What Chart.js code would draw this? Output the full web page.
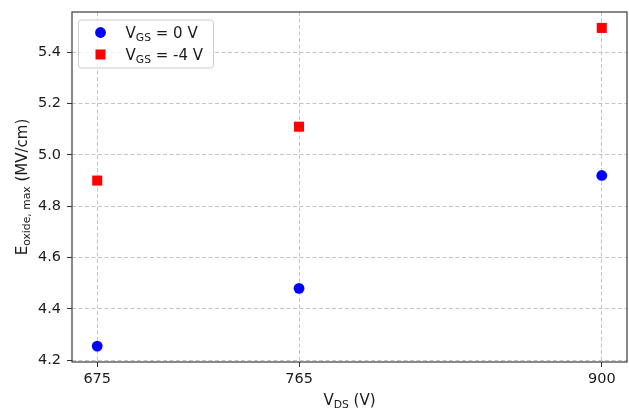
<!DOCTYPE html>
<html>
<head>
<meta charset="utf-8">
<script src="https://cdn.jsdelivr.net/npm/chart.js@4/dist/chart.umd.min.js"></script>
<style>
html,body{margin:0;padding:0;background:#fff;}
#wrap{width:629px;height:408px;position:relative;}
</style>
</head>
<body>
<div id="wrap"><canvas id="c" width="629" height="408"></canvas></div>
<script>
// ---- data ----
const vdsValues = [675, 765, 900];
const eox_vgs0 = [4.255, 4.48, 4.92];
const eox_vgsm4 = [4.90, 5.11, 5.495];
const xTickValues = [675, 765, 900];
const yTickValues = [4.2, 4.4, 4.6, 4.8, 5.0, 5.2, 5.4];
const seriesLabels = [["V", "GS", " = 0 V"], ["V", "GS", " = -4 V"]];
const xTitleParts = ["V", "DS", " (V)"];
const yTitleParts = ["E", "oxide, max", " (MV/cm)"];

const FONT = '"DejaVu Sans", sans-serif';
const TXT = '#1a1a1a';

function pad(arr){ const lo=Math.min(...arr), hi=Math.max(...arr); const m=(hi-lo)*0.05; return [lo-m, hi+m]; }
const xr = pad(vdsValues);
const yr = pad(eox_vgs0.concat(eox_vgsm4));

function drawSub(ctx, parts, x, y, size, align) {
  ctx.font = size + 'px ' + FONT;
  const w0 = ctx.measureText(parts[0]).width;
  const w2 = ctx.measureText(parts[2]).width;
  ctx.font = (size*0.72) + 'px ' + FONT;
  const w1 = ctx.measureText(parts[1]).width;
  const total = w0 + w1 + w2;
  let sx = align === 'center' ? x - total/2 : x;
  ctx.textAlign = 'left';
  ctx.textBaseline = 'alphabetic';
  ctx.font = size + 'px ' + FONT;
  ctx.fillText(parts[0], sx, y);
  ctx.font = (size*0.72) + 'px ' + FONT;
  ctx.fillText(parts[1], sx + w0, y + size*0.2);
  ctx.font = size + 'px ' + FONT;
  ctx.fillText(parts[2], sx + w0 + w1, y);
}

const decor = {
  id: 'decor',
  afterDraw(chart) {
    const ctx = chart.ctx;
    const a = chart.chartArea;
    ctx.save();
    ctx.strokeStyle = '#3a3a3a';
    ctx.lineWidth = 1.2;
    ctx.setLineDash([]);
    ctx.strokeRect(a.left, a.top, a.right - a.left, a.bottom - a.top);
    ctx.fillStyle = TXT;
    drawSub(ctx, xTitleParts, (a.left + a.right)/2, 405, 15, 'center');
    ctx.save();
    ctx.translate(27, (a.top + a.bottom)/2);
    ctx.rotate(-Math.PI/2);
    drawSub(ctx, yTitleParts, 0, 0, 15, 'center');
    ctx.restore();
    // legend
    const lx = a.left + 6.5, ly = a.top + 8, lw = 135, lh = 48;
    ctx.beginPath();
    if (ctx.roundRect) ctx.roundRect(lx, ly, lw, lh, 3); else ctx.rect(lx, ly, lw, lh);
    ctx.fillStyle = 'rgba(255,255,255,0.8)';
    ctx.fill();
    ctx.strokeStyle = '#cccccc';
    ctx.lineWidth = 1;
    ctx.stroke();
    const ds = chart.data.datasets;
    const rows = [ly + 12.5, ly + 34.5];
    for (let i = 0; i < 2; i++) {
      const cy = rows[i];
      const cx = lx + 22;
      ctx.fillStyle = ds[i].backgroundColor;
      ctx.beginPath();
      if (i === 0) { ctx.arc(cx, cy, 5.4, 0, Math.PI*2); ctx.fill(); }
      else { ctx.fillRect(cx - 5, cy - 5, 10, 10); }
      ctx.fillStyle = TXT;
      drawSub(ctx, seriesLabels[i], lx + 47, cy + 5.5, 15, 'left');
    }
    ctx.restore();
  }
};

new Chart(document.getElementById('c'), {
  type: 'scatter',
  data: {
    datasets: [
      { label: 'VGS = 0 V', data: vdsValues.map((v,i)=>({x:v, y:eox_vgs0[i]})),
        backgroundColor: '#0000ff', borderColor: '#0000ff', pointStyle: 'circle', pointRadius: 5.4, borderWidth: 0 },
      { label: 'VGS = -4 V', data: vdsValues.map((v,i)=>({x:v, y:eox_vgsm4[i]})),
        backgroundColor: '#ff0000', borderColor: '#ff0000', pointStyle: 'rect', pointRadius: 7.1, borderWidth: 0 }
    ]
  },
  options: {
    responsive: false,
    animation: false,
    devicePixelRatio: 1,
    layout: { autoPadding: false, padding: { left: 0, right: 2, top: 12, bottom: 0 } },
    plugins: { legend: { display: false }, tooltip: { enabled: false } },
    scales: {
      x: {
        type: 'linear', min: xr[0], max: xr[1],
        afterBuildTicks(s) { s.ticks = xTickValues.map(v => ({ value: v })); },
        afterFit(s) { s.height = 46; s.paddingLeft = 0; s.paddingRight = 0; },
        ticks: { color: TXT, font: { family: FONT, size: 14.5 }, padding: 4, maxRotation: 0,
                 callback: v => String(v) },
        grid: { color: '#c4c4c4', lineWidth: 1, tickLength: 5, tickColor: '#333', tickWidth: 1 },
        border: { display: false, dash: [4, 2.5] }
      },
      y: {
        type: 'linear', min: yr[0], max: yr[1],
        afterBuildTicks(s) { s.ticks = yTickValues.map(v => ({ value: v })); },
        afterFit(s) { s.width = 72; s.paddingTop = 0; s.paddingBottom = 0; },
        ticks: { color: TXT, font: { family: FONT, size: 14.5 }, padding: 6,
                 callback: v => Number(v).toFixed(1) },
        grid: { color: '#c4c4c4', lineWidth: 1, tickLength: 5, tickColor: '#333', tickWidth: 1 },
        border: { display: false, dash: [4, 2.5] }
      }
    }
  },
  plugins: [decor]
});
</script>
</body>
</html>
